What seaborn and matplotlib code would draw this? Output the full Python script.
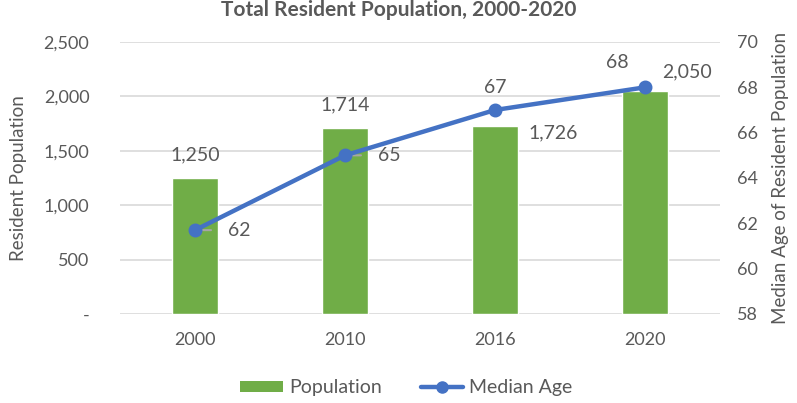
import matplotlib
matplotlib.use("Agg")
import matplotlib.pyplot as plt
import pandas as pd
import seaborn as sns
from matplotlib.lines import Line2D
from matplotlib.patches import Patch
from matplotlib.ticker import FuncFormatter

years = ["2000", "2010", "2016", "2020"]
population = [1250, 1714, 1726, 2050]
median_age = [61.7, 65.0, 67.0, 68.0]
age_labels = ["62", "65", "67", "68"]

GREEN = "#70AD47"
BLUE = "#4472C4"
GRAY = "#595959"

sns.set_theme(style="white")
plt.rcParams["font.family"] = ["Lato", "DejaVu Sans"]

df = pd.DataFrame({"year": years, "population": population, "age": median_age})

fig = plt.figure(figsize=(7.97, 4.03), dpi=100)
ax = fig.add_axes([120 / 797, 1 - 314 / 403, 600 / 797, 272 / 403])

sns.barplot(data=df, x="year", y="population", color=GREEN, width=0.31,
            saturation=1, ax=ax, zorder=2)
ax.set_ylim(0, 2500)
ax.set_xlim(-0.5, 3.5)
ax.set_yticks(range(0, 2501, 500))
ax.yaxis.set_major_formatter(FuncFormatter(lambda v, p: "-" if v == 0 else f"{v:,.0f}"))
ax.grid(axis="y", color="#D9D9D9", linewidth=1.2, zorder=0)
ax.set_axisbelow(True)
for s in ax.spines.values():
    s.set_visible(False)
ax.tick_params(axis="both", length=0, labelsize=13, labelcolor=GRAY)
ax.tick_params(axis="x", pad=13)
ax.tick_params(axis="y", pad=22)
ax.set_xlabel("")
ax.set_ylabel("Resident Population", fontsize=13.5, color=GRAY, labelpad=12)

ax2 = ax.twinx()
sns.pointplot(data=df, x="year", y="age", color=BLUE, markers="o",
              linestyles="-", ax=ax2, zorder=4)
for ln in ax2.lines:
    ln.set_linewidth(3.2)
    ln.set_markersize(8)
ax2.set_ylim(58, 70)
ax2.set_xlim(-0.5, 3.5)
ax2.set_yticks(range(58, 71, 2))
for s in ax2.spines.values():
    s.set_visible(False)
ax2.tick_params(axis="y", length=0, labelsize=13, labelcolor=GRAY, pad=12)
ax2.set_xlabel("")
ax2.set_ylabel("Median Age of Resident Population", fontsize=13.5, color=GRAY, labelpad=10)
ax2.grid(False)

# bar labels
bar_offsets = [(0, 16.5), (0, 16), (42, -5), (30, 14)]
for i, (v, off) in enumerate(zip(population, bar_offsets)):
    ax.annotate(f"{v:,}", (i, v), xytext=off, textcoords="offset points",
                ha="center", va="center", fontsize=14, color=GRAY)

# line labels
age_offsets = [(32, 0), (32, 0), (0, 16.5), (-20, 18)]
for i, (v, lab, off) in enumerate(zip(median_age, age_labels, age_offsets)):
    arrow = None
    if off[1] == 0:
        arrow = dict(arrowstyle="-", color="#A6A6A6", lw=1.5, shrinkA=10, shrinkB=1)
    ax2.annotate(lab, (i, v), xytext=off, textcoords="offset points",
                 ha="center", va="center", fontsize=14, color=GRAY,
                 arrowprops=arrow)

fig.text(0.5, 1 - 16 / 403, "Total Resident Population, 2000-2020", ha="center",
         va="baseline", fontsize=15, fontweight="bold", color=GRAY)

handles = [Patch(facecolor=GREEN, edgecolor="none"),
           Line2D([0], [0], color=BLUE, lw=3.2, marker="o", markersize=8)]
fig.legend(handles, ["Population", "Median Age"], loc="center",
           bbox_to_anchor=(0.51, 1 - 388 / 403), ncol=2, frameon=False,
           fontsize=14, labelcolor=GRAY, handlelength=2.2, handleheight=0.55,
           columnspacing=2.0, handletextpad=0.3)

fig.savefig("out.png", dpi=100)
